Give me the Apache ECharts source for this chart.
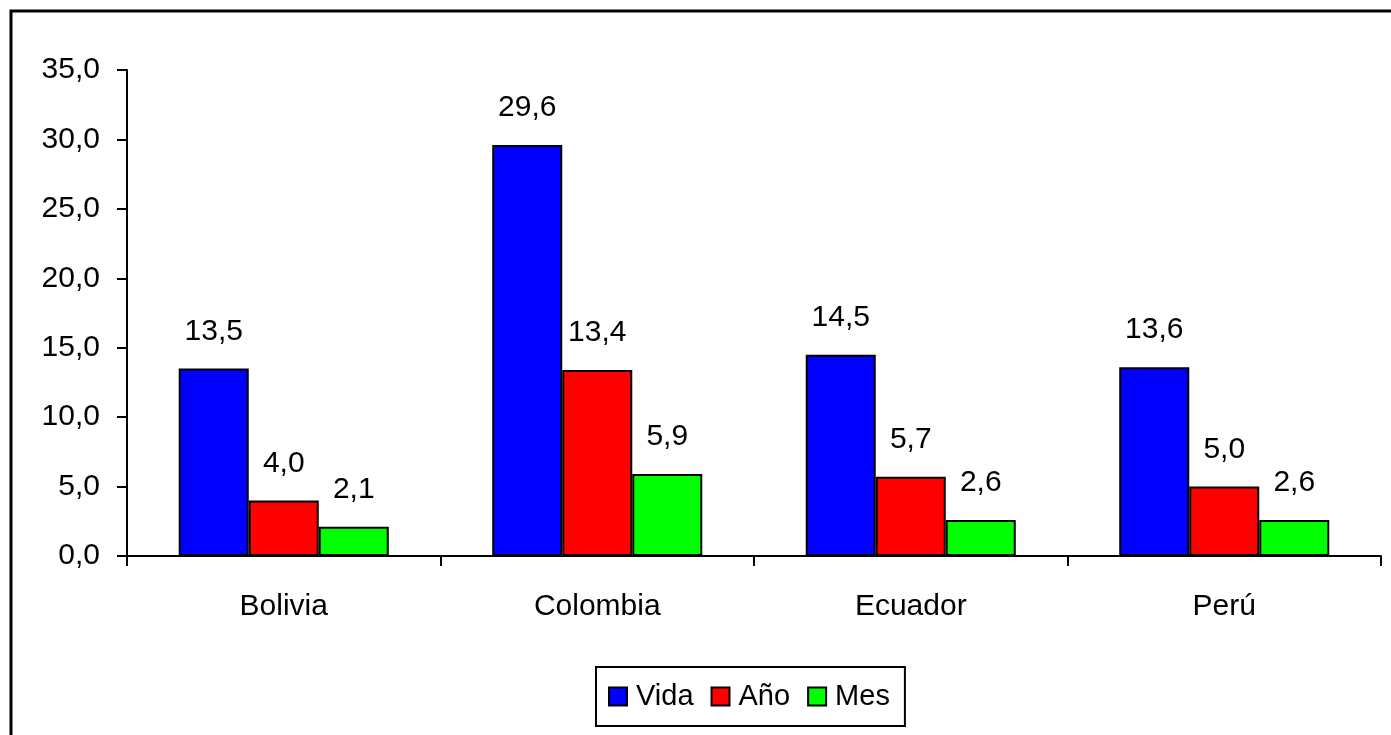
<!DOCTYPE html>
<html>
<head>
<meta charset="utf-8">
<script src="https://cdn.jsdelivr.net/npm/echarts@6/dist/echarts.min.js"></script>
<style>
  html, body { margin: 0; padding: 0; background: #fff; }
  #main { width: 1391px; height: 735px; }
</style>
</head>
<body>
<div id="main"></div>
<script>
var paises = ['Bolivia', 'Colombia', 'Ecuador', 'Perú'];
var vida = [13.5, 29.6, 14.5, 13.6];
var anio = [4.0, 13.4, 5.7, 5.0];
var mes = [2.1, 5.9, 2.6, 2.6];

var coma = function (v) {
    return Number(v).toFixed(1).replace('.', ',');
};

var myChart = echarts.init(document.getElementById('main'));

var barra = function (nombre, datos, color) {
    return {
        name: nombre,
        type: 'bar',
        data: datos,
        barGap: 0,
        barCategoryGap: '33%',
        itemStyle: {
            color: color,
            borderColor: '#000',
            borderWidth: 2
        },
        label: {
            show: true,
            position: 'top',
            distance: 22,
            fontSize: 30,
            color: '#000',
            fontFamily: 'Liberation Sans',
            formatter: function (p) { return coma(p.value); }
        }
    };
};

var option = {
    animation: false,
    textStyle: { fontFamily: 'Liberation Sans' },
    graphic: [{
        type: 'rect',
        shape: { x: 11, y: 11, width: 1500, height: 900 },
        style: { fill: 'none', stroke: '#000', lineWidth: 3 },
        silent: true
    }],
    grid: { left: 127, right: 10, top: 70, bottom: 179 },
    legend: {
        left: 596,
        top: 667,
        icon: 'rect',
        itemWidth: 18,
        itemHeight: 18,
        itemGap: 17,
        padding: [15, 15, 15, 12],
        borderColor: '#000',
        borderWidth: 2,
        borderRadius: 0,
        itemStyle: { borderColor: '#000', borderWidth: 2 },
        textStyle: { fontSize: 29, color: '#000', fontFamily: 'Liberation Sans', padding: [0, 0, 0, 4] },
        data: ['Vida', 'Año', 'Mes']
    },
    xAxis: {
        type: 'category',
        data: paises,
        axisLine: { lineStyle: { color: '#000', width: 2 } },
        axisTick: { show: true, length: 10, lineStyle: { color: '#000', width: 2 } },
        axisLabel: { margin: 36, fontSize: 30, color: '#000', fontFamily: 'Liberation Sans' }
    },
    yAxis: {
        type: 'value',
        min: 0,
        max: 35,
        interval: 5,
        splitLine: { show: false },
        axisLine: { show: true, lineStyle: { color: '#000', width: 2 } },
        axisTick: { show: true, length: 10, lineStyle: { color: '#000', width: 2 } },
        axisLabel: {
            margin: 27,
            fontSize: 30,
            color: '#000',
            fontFamily: 'Liberation Sans',
            formatter: function (v) { return coma(v); }
        }
    },
    series: [
        barra('Vida', vida, '#0000ff'),
        barra('Año', anio, '#ff0000'),
        barra('Mes', mes, '#00ff00')
    ]
};

myChart.setOption(option);
</script>
</body>
</html>
